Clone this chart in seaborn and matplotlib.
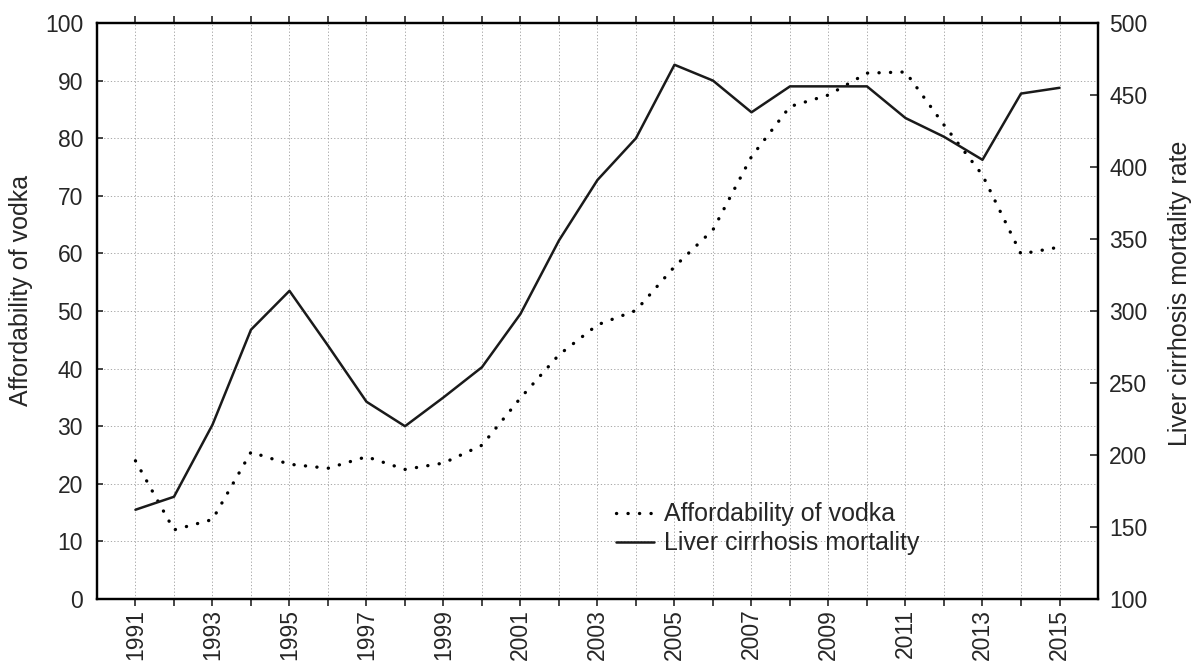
import numpy as np
import pandas as pd
import matplotlib
matplotlib.use("Agg")
import matplotlib.pyplot as plt
import seaborn as sns
from matplotlib.lines import Line2D

years = list(range(1991, 2016))
affordability = [24.0, 12.0, 13.8, 25.5, 23.4, 22.7, 24.7, 22.5, 23.6, 26.7,
                 34.9, 42.4, 47.6, 50.1, 57.7, 64.1, 76.8, 85.5, 87.5, 91.3,
                 91.5, 82.3, 73.6, 59.9, 61.1]
cirrhosis = [162, 171, 221, 287, 314, 276, 237, 220, 240, 261,
             298, 349, 391, 420, 471, 460, 438, 456, 456, 456,
             434, 421, 405, 451, 455]
xtick_labels = [str(y) if (y - 1991) % 2 == 0 else "" for y in years]

df = pd.DataFrame({"year": years, "afford": affordability, "cirr": cirrhosis})

sns.set_style("white")
plt.rcParams["font.family"] = ["Liberation Sans", "DejaVu Sans"]

TICK_FS = 16.5
LABEL_FS = 18

fig = plt.figure(figsize=(11.94, 6.63), dpi=100)
ax = fig.add_axes([0.0812, 0.0965, 0.8384, 0.8688])
ax2 = ax.twinx()

dot_style = (0, (0.05, 3.4))
sns.lineplot(data=df, x="year", y="afford", ax=ax, color="black",
             linewidth=2.4, linestyle=dot_style, dash_capstyle="round",
             legend=False)
sns.lineplot(data=df, x="year", y="cirr", ax=ax2, color="#1a1a1a",
             linewidth=1.8, legend=False)

ax.set_xlim(1990, 2016)
ax.set_ylim(0, 100)
ax2.set_ylim(100, 500)
ax.set_yticks(np.arange(0, 101, 10))
ax2.set_yticks(np.arange(100, 501, 50))
ax.set_xticks(years)
ax.set_xticklabels(xtick_labels, rotation=90)

ax.grid(True, color="#9a9a9a", linestyle=(0, (1.5, 2.5)), linewidth=0.6)
ax.set_axisbelow(True)

ax.set_xlabel("")
ax.set_ylabel("Affordability of vodka", fontsize=LABEL_FS)
ax2.set_ylabel("Liver cirrhosis mortality rate", fontsize=LABEL_FS)
ax.yaxis.set_label_coords(-0.064, 0.535)
ax2.yaxis.set_label_coords(1.070, 0.53)

for a in (ax, ax2):
    for s in a.spines.values():
        s.set_color("black")
        s.set_linewidth(1.6)

ax.tick_params(axis="x", which="both", bottom=True, direction="out",
               length=5, width=1.2, labelsize=TICK_FS, pad=2)
ax.tick_params(axis="x", which="both", top=True)
ax.tick_params(axis="y", left=True, direction="in", length=4, width=1.2,
               labelsize=TICK_FS, pad=10)
ax2.tick_params(axis="y", right=True, direction="in", length=6, width=1.2,
                labelsize=TICK_FS, pad=8)

handles = [
    Line2D([], [], color="black", linewidth=2.4, linestyle=dot_style,
           dash_capstyle="round"),
    Line2D([], [], color="#1a1a1a", linewidth=1.8),
]
ax.legend(handles, ["Affordability of vodka", "Liver cirrhosis mortality"],
          loc="upper left", bbox_to_anchor=(0.519, 0.168), frameon=False,
          fontsize=LABEL_FS, handlelength=1.5, handletextpad=0.4,
          labelspacing=0.2, borderaxespad=0, borderpad=0)

fig.savefig("out.png", dpi=100)
